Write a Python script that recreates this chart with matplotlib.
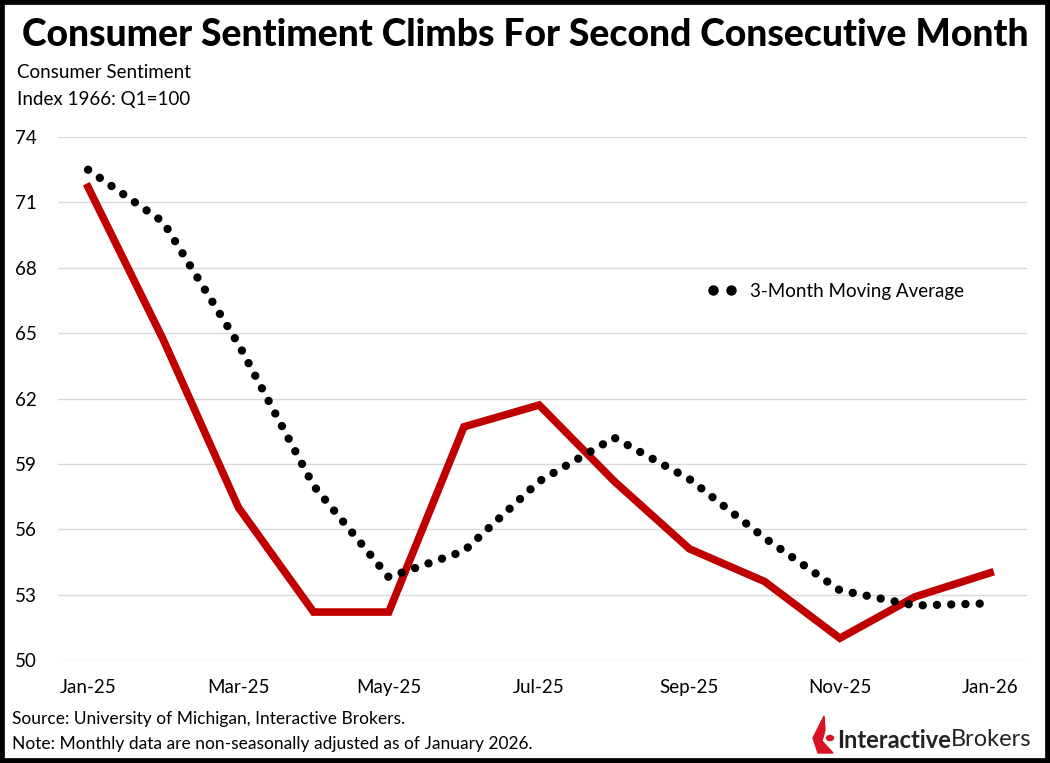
import numpy as np
import matplotlib.pyplot as plt
from matplotlib.patches import Polygon, Circle, Rectangle
from matplotlib.lines import Line2D

plt.rcParams['font.family'] = ['Lato', 'DejaVu Sans']

months = ['Jan-25', 'Feb-25', 'Mar-25', 'Apr-25', 'May-25', 'Jun-25', 'Jul-25',
          'Aug-25', 'Sep-25', 'Oct-25', 'Nov-25', 'Dec-25', 'Jan-26']
sentiment = [71.7, 64.7, 57.0, 52.2, 52.2, 60.7, 61.7, 58.2, 55.1, 53.6, 51.0, 52.9, 54.0]
moving_avg = [72.5, 70.1, 64.5, 58.0, 53.8, 55.0, 58.2, 60.2, 58.3, 55.6, 53.2, 52.5, 52.6]
yticks = [50, 53, 56, 59, 62, 65, 68, 71, 74]

x = np.arange(len(months))

fig = plt.figure(figsize=(10.5, 7.63), dpi=100)
ax = fig.add_axes([58/1050, 1-660/763, (1027-58)/1050, (660-137)/763])

ax.plot(x, sentiment, color='#C00000', lw=5.5, solid_joinstyle='miter', clip_on=False, zorder=3)
ax.plot(x, moving_avg, color='black', lw=6, linestyle=(0, (0.01, 1.7)),
        dash_capstyle='round', clip_on=False, zorder=4)

ax.set_xlim(-0.4, 12.49)
ax.set_ylim(50, 74)
ax.set_yticks(yticks)
ax.set_xticks(x[::2])
ax.set_xticklabels(months[::2])
ax.grid(axis='y', color='#d9d9d9', lw=1)
ax.set_axisbelow(True)
for s in ax.spines.values():
    s.set_visible(False)
ax.tick_params(length=0, labelsize=13.5)
ax.tick_params(axis='y', pad=15)
ax.tick_params(axis='x', pad=14)

proxy = Line2D([], [], ls='none', marker='o', ms=6.5, color='black')
ax.legend([proxy], ['3-Month Moving Average'], loc='center left',
          bbox_to_anchor=(632/969, 0.705), frameon=False, fontsize=13.5,
          numpoints=2, handlelength=1.6, handletextpad=0.7)

fig.text(0.5, 1-35/763, 'Consumer Sentiment Climbs For Second Consecutive Month',
         ha='center', va='center', fontsize=26.8, fontweight='black')
fig.text(17/1050, 1-73/763, 'Consumer Sentiment', ha='left', va='center', fontsize=13.5)
fig.text(17/1050, 1-99/763, 'Index 1966: Q1=100', ha='left', va='center', fontsize=13.5)
fig.text(12/1050, 1-719/763, 'Source: University of Michigan, Interactive Brokers.',
         ha='left', va='center', fontsize=12.5)
fig.text(12/1050, 1-744/763, 'Note: Monthly data are non-seasonally adjusted as of January 2026.',
         ha='left', va='center', fontsize=12.5)

# logo
t1 = fig.text(837/1050, 1-740/763, 'Interactive', ha='left', va='center',
              fontsize=17, fontweight='bold', color='#222222')
fig.canvas.draw()
bb = t1.get_window_extent()
fig.text(bb.x1/1050, 1-740/763, 'Brokers', ha='left', va='center',
         fontsize=17, color='#222222')
fig.patches.append(Polygon([[a/1050, 1-b/763] for a, b in
                            [(824, 716), (813, 738), (818, 753), (833, 753), (822, 741), (825, 730)]],
                           closed=True, transform=fig.transFigure, color='#d81222'))
fig.patches.append(Circle((830/1050, 1-738/763), 3.5/1050, transform=fig.transFigure, color='#d81222'))

# border
fig.patches.append(Rectangle((0, 0), 1, 1, transform=fig.transFigure, fill=False,
                             edgecolor='black', lw=7))

fig.savefig('out.png', dpi=100)
